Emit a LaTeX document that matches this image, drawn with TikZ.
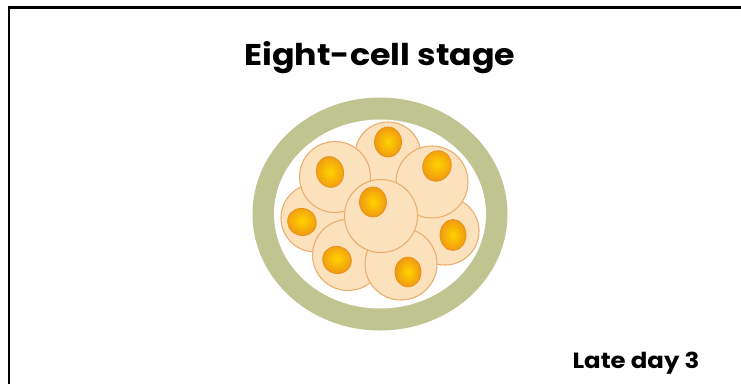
\documentclass[tikz,border=0pt]{standalone}
\usepackage{fontspec}
\setmainfont{Poppins}
\newfontfamily\headfont{Poppins}[FakeStretch=1.11]
\usetikzlibrary{shapes.geometric}
\definecolor{zona}{HTML}{C0C490}
\definecolor{cellfill}{HTML}{FBE2BD}
\definecolor{celledge}{HTML}{EBAE6E}
\definecolor{nucin}{HTML}{FFD300}
\definecolor{nucout}{HTML}{F09A10}
\definecolor{nucedge}{HTML}{E8921E}
\tikzset{
  cell/.style={circle, draw=celledge, fill=cellfill, line width=1.1pt, inner sep=0pt},
  nucleus/.style={ellipse, draw=nucedge, line width=0.8pt, inner sep=0pt,
    inner color=nucin, outer color=nucout},
  label/.style={text=black, inner sep=0pt, anchor=base}
}
\begin{document}
\begin{tikzpicture}[x=1pt, y=-1pt]
\useasboundingbox (0,0) rectangle (741,383);
\fill[white] (0,0) rectangle (741,383);
% frame: top and left edges only
\draw[line width=2.2pt, line cap=rect] (9,383) -- (9,7.5) -- (741,7.5);
% title and time label
\node[label, font=\headfont\bfseries\fontsize{30}{32}\selectfont] (title) at (380,65) {Eight-cell stage};
\node[label, font=\headfont\bfseries\fontsize{22}{24}\selectfont] (day) at (636,368) {Late day 3};
% zona pellucida
\fill[zona] (380,214) ellipse [x radius=127.5, y radius=116.5];
\fill[white] (380,214) ellipse [x radius=106, y radius=94.5];
% blastomeres, back to front
\node[cell, minimum size=66] (c1) at (388,155) {};
\node[nucleus, minimum width=27, minimum height=30] (n1) at (388,142) {};
\node[cell, minimum size=68] (c4) at (315,218) {};
\node[nucleus, minimum width=29, minimum height=27, rotate=-20] (n4) at (302,222) {};
\node[cell, minimum size=68] (c5) at (445,231) {};
\node[nucleus, minimum width=26, minimum height=31] (n5) at (453,235) {};
\node[cell, minimum size=71] (c2) at (335,177) {};
\node[nucleus, minimum width=27, minimum height=31, rotate=15] (n2) at (330,172) {};
\node[cell, minimum size=72] (c3) at (432,182) {};
\node[nucleus, minimum width=28, minimum height=31, rotate=-25] (n3) at (437,166) {};
\node[cell, minimum size=71] (c6) at (348,255) {};
\node[nucleus, minimum width=29, minimum height=27, rotate=-20] (n6) at (337,260) {};
\node[cell, minimum size=72] (c7) at (401,264) {};
\node[nucleus, minimum width=26, minimum height=30] (n7) at (408,272) {};
\node[cell, minimum size=73] (c8) at (381,216) {};
\node[nucleus, minimum width=27, minimum height=30] (n8) at (373,202) {};
\end{tikzpicture}
\end{document}
